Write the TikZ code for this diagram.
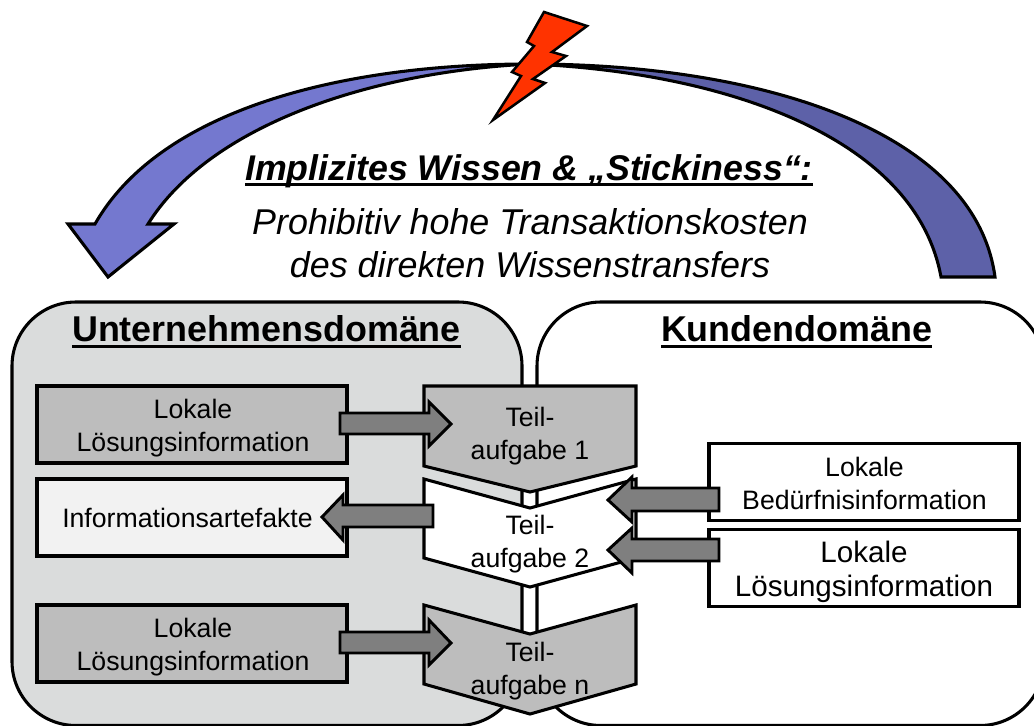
\documentclass[tikz,border=0pt]{standalone}
\usepackage{fontspec}
\setmainfont{Liberation Sans}
\definecolor{arrowL}{HTML}{7478CF}
\definecolor{arrowR}{HTML}{5D61A8}
\definecolor{boltred}{HTML}{FF3300}
\definecolor{domgray}{HTML}{DADCDC}
\definecolor{boxgray}{HTML}{BDBDBD}
\definecolor{boxlight}{HTML}{F2F2F2}
\definecolor{arrowgray}{HTML}{7F7F7F}
\newcommand{\ulx}[3]{\setbox0\hbox{#1}\leavevmode\copy0\llap{\rule[#2]{\wd0}{#3}}}
\tikzset{
  px/.style={x=0.75pt,y=-0.75pt},
  shape line/.style={draw=black,line width=2.3pt,line join=miter,miter limit=10},
  domainbox/.style={draw=black,line width=2.3pt,rounded corners=48pt},
  infobox/.style={draw=black,line width=2.3pt,inner sep=0pt,minimum width=232.5pt,minimum height=57.75pt},
  blockarrow/.style={draw=black,line width=2.2pt,line join=miter,fill=arrowgray},
  textlabel/.style={align=center,inner sep=0pt,text=black,font=\fontsize{20}{24.75}\selectfont},
}
\begin{document}
\begin{tikzpicture}[px]
\useasboundingbox (0,0) rectangle (1034,725);
\clip (0,0) rectangle (1034,725);
% domains
\draw[domainbox,fill=domgray] (12,302) rectangle (522,725.5);
\draw[domainbox,fill=white] (537,302) rectangle (1044,725.5);
% curved arrows
\draw[shape line,fill=arrowR] (530,64) .. controls (760,64) and (975,130) .. (995,277) -- (941,277) .. controls (915,135) and (720,72) .. (530,64) -- cycle;
\draw[shape line,fill=arrowL] (530,64) .. controls (340,64) and (160,110) .. (95,224) -- (68,224) -- (108,277) -- (174,224) -- (148,224) .. controls (210,125) and (370,72) .. (530,64) -- cycle;
% bolt
\draw[shape line,fill=boltred,line width=1.9pt] (544,12) -- (587,26) -- (552,52) -- (566,56) -- (533,79) -- (545,83) -- (493,120) -- (521,76) -- (512,72) -- (534,46) -- (527,42) -- cycle;
% info boxes
\node[infobox,fill=boxgray] (lok1box) at (192,424.5) {};
\node[infobox,fill=boxlight] (artbox) at (192,517.5) {};
\node[infobox,fill=boxgray] (lok3box) at (192,643.5) {};
\node[infobox,fill=white] (bedbox) at (864,482) {};
\node[infobox,fill=white] (lok2box) at (864,568) {};
% subtasks
\draw[shape line,fill=boxgray] (424,386) -- (636,386) -- (636,466) -- (530,492) -- (424,466) -- cycle;
\draw[shape line,fill=white] (424,479) -- (530,508) -- (636,479) -- (636,558) -- (530,587) -- (424,558) -- cycle;
\draw[shape line,fill=boxgray] (424,605) -- (530,634) -- (636,605) -- (636,684) -- (530,714) -- (424,684) -- cycle;
% block arrows
\draw[blockarrow] (340,413) -- (429,413) -- (429,402) -- (451,424) -- (429,446) -- (429,434) -- (340,434) -- cycle;
\draw[blockarrow] (340,632) -- (429,632) -- (429,620) -- (451,643) -- (429,665) -- (429,653) -- (340,653) -- cycle;
\draw[blockarrow] (433,505) -- (343,505) -- (343,495) -- (322,517) -- (343,540) -- (343,527) -- (433,527) -- cycle;
\draw[blockarrow] (719,488) -- (632,488) -- (632,477) -- (608,500) -- (632,522) -- (632,511) -- (719,511) -- cycle;
\draw[blockarrow] (719,539) -- (632,539) -- (632,528) -- (608,550) -- (632,573) -- (632,561) -- (719,561) -- cycle;
% texts
\node[inner sep=0pt,font=\fontsize{26.8}{33}\selectfont\bfseries\itshape] (title) at (529,171) {\ulx{Implizites Wissen \& „Stickiness“:}{-4.2pt}{2.4pt}};
\node[inner sep=0pt,align=center,font=\fontsize{26.9}{32.5}\selectfont\itshape] (sub) at (530,243) {Prohibitiv hohe Transaktionskosten\\des direkten Wissenstransfers};
\node[inner sep=0pt,font=\fontsize{26.9}{32}\selectfont\bfseries] (dom1) at (266.5,332) {\ulx{Unternehmensdomäne}{-5pt}{2.4pt}};
\node[inner sep=0pt,font=\fontsize{26.9}{32}\selectfont\bfseries] (dom2) at (796.5,332) {\ulx{Kundendomäne}{-5pt}{2.4pt}};
\node[textlabel] (t1) at (193,428) {Lokale\\Lösungsinformation};
\node[textlabel] (t2) at (187.5,518) {Informationsartefakte};
\node[textlabel] (t3) at (193,647) {Lokale\\Lösungsinformation};
\node[textlabel] (t4) at (864.5,483) {Lokale\\Bedürfnisinformation};
\node[textlabel,font=\fontsize{22.2}{25}\selectfont] (t5) at (864,572) {Lokale\\Lösungsinformation};
\node[textlabel] (a1) at (530,436) {Teil-\\aufgabe 1};
\node[textlabel] (a2) at (530,544) {Teil-\\aufgabe 2};
\node[textlabel] (a3) at (530,671) {Teil-\\aufgabe n};
\end{tikzpicture}
\end{document}
